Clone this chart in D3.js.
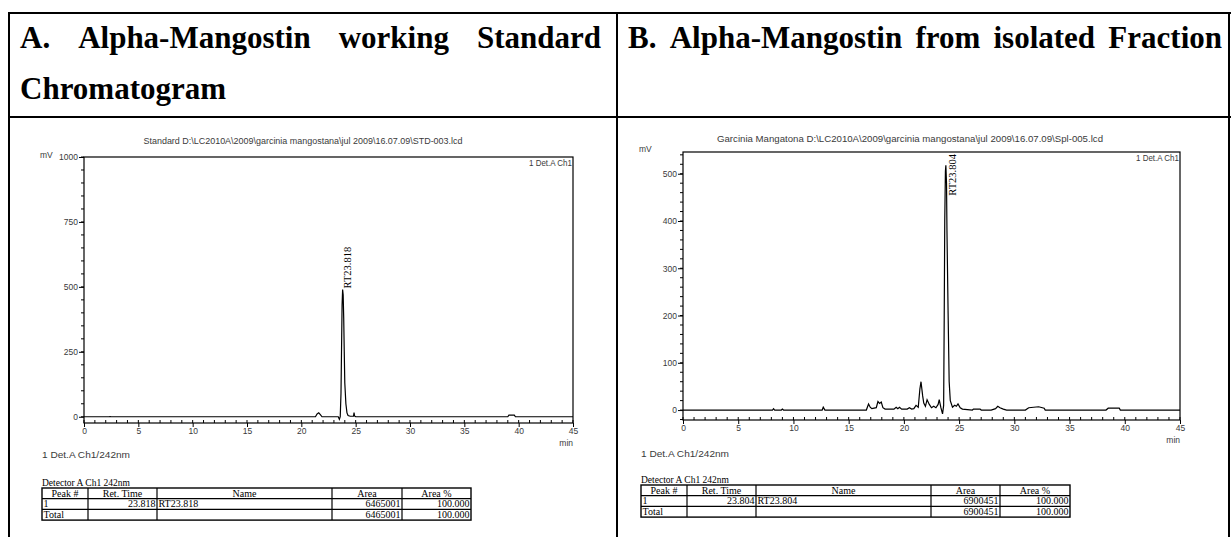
<!DOCTYPE html>
<html><head><meta charset="utf-8">
<script src="https://cdn.jsdelivr.net/npm/d3@7"></script>
<style>body{margin:0;background:#fff}svg{display:block}</style>
</head><body><svg id="c" width="1231" height="537"></svg>
<script>
// ---------------- data ----------------
const headerA = ["A.", "Alpha-Mangostin", "working", "Standard"];
const headerA2 = "Chromatogram";
const headerB = ["B.", "Alpha-Mangostin", "from", "isolated", "Fraction"];
const titleA = "Standard D:\\LC2010A\\2009\\garcinia mangostana\\jul 2009\\16.07.09\\STD-003.lcd";
const titleB = "Garcinia Mangatona D:\\LC2010A\\2009\\garcinia mangostana\\jul 2009\\16.07.09\\Spl-005.lcd";
const channelLabel = "1 Det.A Ch1";
const traceLabel = "1 Det.A Ch1/242nm";
const detectorLabel = "Detector A Ch1 242nm";
const timeTicks = [0, 5, 10, 15, 20, 25, 30, 35, 40, 45];
const mvTicksA = [0, 250, 500, 750, 1000];
const mvTicksB = [0, 100, 200, 300, 400, 500];

const timeA = [0, 2.3, 2.4, 2.5, 21.3, 21.45, 21.6, 21.75, 21.9, 23.4, 23.5, 23.58, 23.65, 23.7, 23.75, 23.8, 23.85, 23.9, 23.95, 24.0, 24.1, 24.2, 24.3, 24.5, 24.8, 24.85, 24.9, 25.0, 39.0, 39.1, 39.6, 39.7, 45];
const mvA   = [0, 0, 1, 0, 0, 11, 15, 8, 0, 0, -10, 0, 90, 260, 430, 490, 470, 380, 250, 130, 50, 15, 5, 2, 2, 16, 3, 0, 0, 6, 6, 0, 0];

const timeB = [0, 8.1, 8.2, 8.3, 8.9, 9.0, 9.1, 12.6, 12.7, 12.85, 16.6, 16.8, 16.95, 17.1, 17.5, 17.65, 17.8, 17.95, 18.1, 18.3, 19.1, 19.3, 19.45, 19.6, 19.8, 20.3, 20.5, 20.7, 20.9, 21.1, 21.3, 21.45, 21.55, 21.7, 21.8, 21.95, 22.1, 22.3, 22.5, 22.7, 22.9, 23.1, 23.2, 23.35, 23.5, 23.6, 23.65, 23.7, 23.76, 23.8, 23.86, 23.9, 24.0, 24.1, 24.2, 24.4, 24.6, 24.75, 24.9, 25.1, 25.3, 26.2, 26.3, 26.9, 27.0, 27.9, 28.3, 28.5, 28.7, 29.0, 29.3, 31.0, 31.3, 32.2, 32.7, 32.8, 38.3, 38.5, 39.5, 39.6, 45];
const mvB   = [0, 0, 3, 0, 0, 2, 0, 0, 6, 0, 0, 13, 6, 3, 5, 18, 14, 17, 5, 2, 2, 6, 3, 6, 2, 2, 5, 2, 3, 10, 6, 45, 60, 30, 15, 8, 22, 12, 5, 8, 5, 12, 22, 5, -8, 10, 190, 400, 505, 518, 480, 380, 210, 60, 20, 6, 10, 8, 13, 5, 2, 0, 2, 2, 0, 0, 3, 8, 5, 2, 0, 0, 5, 7, 4, 0, 0, 4, 4, 0, 0];

const peakNameA = "RT23.818", peakTimeA = 23.818;
const peakNameB = "RT23.804", peakTimeB = 23.804;

const tableColumns = ["Peak #", "Ret. Time", "Name", "Area", "Area %"];
const tableRowsA = [["1", "23.818", "RT23.818", "6465001", "100.000"], ["Total", "", "", "6465001", "100.000"]];
const tableRowsB = [["1", "23.804", "RT23.804", "6900451", "100.000"], ["Total", "", "", "6900451", "100.000"]];

// ---------------- drawing ----------------
const svg = d3.select("#c");
svg.append("rect").attr("width", 1231).attr("height", 537).attr("fill", "#fff");
const sans = "Liberation Sans, Arial, sans-serif";
const serif = "Liberation Serif, Times New Roman, serif";

// outer table
const g0 = svg.append("g").attr("stroke", "#000").attr("stroke-width", 2);
g0.append("line").attr("x1", 8).attr("x2", 1231).attr("y1", 13).attr("y2", 13);
g0.append("line").attr("x1", 8).attr("x2", 1231).attr("y1", 117).attr("y2", 117);
g0.append("line").attr("x1", 9).attr("x2", 9).attr("y1", 12).attr("y2", 537);
g0.append("line").attr("x1", 617).attr("x2", 617).attr("y1", 12).attr("y2", 537);
g0.append("line").attr("x1", 1229).attr("x2", 1229).attr("y1", 12).attr("y2", 537);

const HF = 31;
function justify(words, x0, x1, y) {
  const t = words.map(w => svg.append("text").attr("y", y).text(w)
    .attr("font-family", serif).attr("font-weight", "bold").attr("font-size", HF).attr("fill", "#000"));
  const widths = t.map(s => s.node().getComputedTextLength());
  const gap = (x1 - x0 - d3.sum(widths)) / (words.length - 1);
  let x = x0;
  t.forEach((s, i) => { s.attr("x", x); x += widths[i] + gap; });
}
justify(headerA, 20, 601, 48);
svg.append("text").attr("x", 20).attr("y", 99).text(headerA2)
  .attr("font-family", serif).attr("font-weight", "bold").attr("font-size", HF);
justify(headerB, 628, 1222, 48);

function txt(g, x, y, s, size, anchor, len) {
  const t = g.append("text").attr("x", x).attr("y", y).attr("font-family", sans)
    .attr("font-size", size).attr("fill", "#3a3a3a").attr("text-anchor", anchor || "start").text(s);
  if (len) t.attr("textLength", len).attr("lengthAdjust", "spacingAndGlyphs");
  return t;
}

function panel(cfg) {
  const g = svg.append("g");
  const x = d3.scaleLinear().domain([0, 45]).range([cfg.left, cfg.right]);
  const y = d3.scaleLinear().domain(cfg.yDomain).range([cfg.bottom, cfg.top]);

  txt(g, cfg.titleX, cfg.titleY, cfg.title, 8.5, "middle", cfg.titleLen);
  txt(g, cfg.mvX, cfg.mvY, "mV", 8.5);
  txt(g, cfg.right - 1, cfg.top + 9, channelLabel, 8.5, "end", 43);

  // minor y ticks
  g.append("g").selectAll("line").data(cfg.minorY).join("line")
    .attr("x1", cfg.left - 3).attr("x2", cfg.left).attr("y1", d => y(d)).attr("y2", d => y(d))
    .attr("stroke", "#000").attr("stroke-width", 1);
  // y axis (major)
  const ya = d3.axisLeft(y).tickValues(cfg.yTicks).tickFormat(d3.format("d")).tickSize(5).tickPadding(1);
  const yg = g.append("g").attr("transform", `translate(${cfg.left},0)`).call(ya);
  yg.select(".domain").remove();
  yg.selectAll("text").attr("font-family", sans).attr("font-size", 8.5).attr("fill", "#3a3a3a");

  // x ticks (minor inside)
  g.append("g").selectAll("line").data(d3.range(0, 46, 1)).join("line")
    .attr("x1", d => x(d)).attr("x2", d => x(d)).attr("y1", cfg.bottom).attr("y2", cfg.bottom - 3)
    .attr("stroke", "#000").attr("stroke-width", 1);
  const xa = d3.axisBottom(x).tickValues(timeTicks).tickSize(4).tickPadding(1);
  const xg = g.append("g").attr("transform", `translate(0,${cfg.bottom})`).call(xa);
  xg.select(".domain").remove();
  xg.selectAll("text").attr("font-family", sans).attr("font-size", 8.5).attr("fill", "#3a3a3a");
  txt(g, cfg.right, cfg.bottom + 23, "min", 8.5, "end");
  txt(g, cfg.mvX + 2, cfg.traceLabelY, traceLabel, 8.5, "start", 88);

  // frame
  g.append("rect").attr("x", cfg.left).attr("y", cfg.top)
    .attr("width", cfg.right - cfg.left).attr("height", cfg.bottom - cfg.top)
    .attr("fill", "none").attr("stroke", "#000").attr("stroke-width", 1.2);

  // trace
  const pts = cfg.time.map((t, i) => [t, cfg.mv[i]]);
  g.append("path").datum(pts)
    .attr("d", d3.line().x(d => x(d[0])).y(d => y(d[1])))
    .attr("fill", "none").attr("stroke", "#000").attr("stroke-width", 1.2);

  // peak label
  const apex = d3.max(cfg.mv);
  const lab = g.append("text").attr("font-family", serif).attr("font-size", 10.5).attr("fill", "#000")
    .text(cfg.peakName);
  const len = lab.node().getComputedTextLength();
  const yb = Math.max(y(apex) - 1, cfg.top + 2 + len);
  const lx = x(cfg.peakTime) + cfg.peakDx;
  lab.attr("transform", `translate(${lx},${yb}) rotate(-90)`);

  // table
  g.append("text").attr("x", cfg.tableX).attr("y", cfg.tableY - 2)
    .attr("font-family", serif).attr("font-size", 9.5).attr("fill", "#000")
    .attr("textLength", 88).attr("lengthAdjust", "spacingAndGlyphs").text(detectorLabel);
  const cols = cfg.tableCols, rh = cfg.rowH;
  const rowsAll = [tableColumns].concat(cfg.rows);
  const tg = g.append("g");
  const tw = cols[cols.length - 1] - cols[0];
  tg.append("rect").attr("x", cols[0]).attr("y", cfg.tableY).attr("width", tw).attr("height", rh * 3)
    .attr("fill", "none").attr("stroke", "#000").attr("stroke-width", 1.4);
  for (let i = 1; i < 3; i++) tg.append("line").attr("x1", cols[0]).attr("x2", cols[cols.length - 1])
    .attr("y1", cfg.tableY + rh * i).attr("y2", cfg.tableY + rh * i).attr("stroke", "#000").attr("stroke-width", 1.2);
  for (let j = 1; j < cols.length - 1; j++) tg.append("line").attr("x1", cols[j]).attr("x2", cols[j])
    .attr("y1", cfg.tableY).attr("y2", cfg.tableY + rh * 3).attr("stroke", "#000").attr("stroke-width", 1.2);
  const align = ["start", "end", "start", "end", "end"];
  rowsAll.forEach((r, ri) => r.forEach((v, ci) => {
    let anchor = ri === 0 ? "middle" : align[ci];
    let tx = anchor === "middle" ? (cols[ci] + cols[ci + 1]) / 2 : anchor === "start" ? cols[ci] + 1.5 : cols[ci + 1] - 1.5;
    tg.append("text").attr("x", tx).attr("y", cfg.tableY + rh * ri + rh - 2.2).attr("text-anchor", anchor)
      .attr("font-family", serif).attr("font-size", 10).attr("fill", "#000").text(v);
  }));
}

panel({
  left: 84, right: 573, top: 157, bottom: 423, yDomain: [-24, 1000],
  yTicks: mvTicksA, minorY: d3.range(0, 1001, 50),
  title: titleA, titleX: 303, titleY: 144, titleLen: 319, mvX: 40, mvY: 158, traceLabelY: 458,
  time: timeA, mv: mvA, peakName: peakNameA, peakTime: peakTimeA, peakDx: 8,
  tableX: 42, tableY: 488, tableCols: [42, 88, 157, 332, 402, 471], rowH: 10.7, rows: tableRowsA
});
panel({
  left: 683, right: 1180, top: 152, bottom: 420, yDomain: [-21, 546],
  yTicks: mvTicksB, minorY: d3.range(-20, 541, 20),
  title: titleB, titleX: 910, titleY: 142, titleLen: 386, mvX: 639, mvY: 152, traceLabelY: 457,
  time: timeB, mv: mvB, peakName: peakNameB, peakTime: peakTimeB, peakDx: 10,
  tableX: 641, tableY: 485, tableCols: [641, 687, 756, 931, 1000, 1070], rowH: 10.7, rows: tableRowsB
});
</script></body></html>
